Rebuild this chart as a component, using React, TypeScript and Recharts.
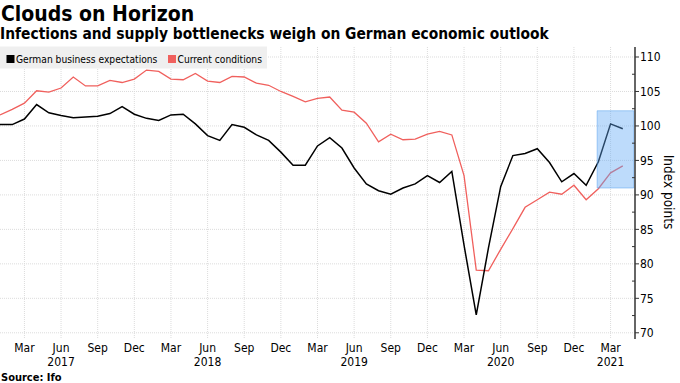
import React from 'react';
import {
  LineChart,
  Line,
  XAxis,
  YAxis,
  CartesianGrid,
  ReferenceArea,
} from 'recharts';

// monthly, Jan 2017 .. Apr 2021
const months = [
  'Jan 2017', 'Feb 2017', 'Mar 2017', 'Apr 2017', 'May 2017', 'Jun 2017',
  'Jul 2017', 'Aug 2017', 'Sep 2017', 'Oct 2017', 'Nov 2017', 'Dec 2017',
  'Jan 2018', 'Feb 2018', 'Mar 2018', 'Apr 2018', 'May 2018', 'Jun 2018',
  'Jul 2018', 'Aug 2018', 'Sep 2018', 'Oct 2018', 'Nov 2018', 'Dec 2018',
  'Jan 2019', 'Feb 2019', 'Mar 2019', 'Apr 2019', 'May 2019', 'Jun 2019',
  'Jul 2019', 'Aug 2019', 'Sep 2019', 'Oct 2019', 'Nov 2019', 'Dec 2019',
  'Jan 2020', 'Feb 2020', 'Mar 2020', 'Apr 2020', 'May 2020', 'Jun 2020',
  'Jul 2020', 'Aug 2020', 'Sep 2020', 'Oct 2020', 'Nov 2020', 'Dec 2020',
  'Jan 2021', 'Feb 2021', 'Mar 2021', 'Apr 2021',
];

const expectations = [
  100.2, 100.2, 101.0, 103.1, 101.9, 101.5, 101.2, 101.3, 101.4, 101.8, 102.8, 101.7,
  101.1, 100.8, 101.6, 101.7, 100.3, 98.6, 97.9, 100.2, 99.8, 98.7, 97.9, 96.2,
  94.3, 94.3, 97.1, 98.3, 96.8, 93.9, 91.6, 90.6, 90.1, 91.0, 91.6, 92.8,
  91.8, 93.4, 82.7, 72.6, 82.3, 91.2, 95.7, 96.0, 96.7, 94.7, 91.9, 93.1,
  91.4, 94.8, 100.3, 99.6,
];

const conditions = [
  101.6, 102.4, 103.3, 105.1, 104.9, 105.5, 107.1, 105.8, 105.8, 106.6, 106.3, 106.8,
  108.1, 107.9, 106.8, 106.7, 107.6, 106.5, 106.3, 107.2, 107.1, 106.2, 105.9, 105.0,
  104.3, 103.5, 104.0, 104.2, 102.3, 102.0, 100.4, 97.7, 98.8, 98.0, 98.1, 98.8,
  99.2, 98.7, 92.8, 79.1, 79.0, 82.1, 85.1, 88.2, 89.3, 90.4, 90.1, 91.4,
  89.3, 90.9, 93.2, 94.2,
];

// quarterly ticks (month index), labels and year line
const xTicks = [2, 5, 8, 11, 14, 17, 20, 23, 26, 29, 32, 35, 38, 41, 44, 47, 50];
const xTickMonths = ['Mar', 'Jun', 'Sep', 'Dec', 'Mar', 'Jun', 'Sep', 'Dec', 'Mar', 'Jun', 'Sep', 'Dec', 'Mar', 'Jun', 'Sep', 'Dec', 'Mar'];
const xTickYears = ['', '2017', '', '', '', '2018', '', '', '', '2019', '', '', '', '2020', '', '', '2021'];

const yMajor = [70, 75, 80, 85, 90, 95, 100, 105, 110];
const yTicks = [70, 72.5, 75, 77.5, 80, 82.5, 85, 87.5, 90, 92.5, 95, 97.5, 100, 102.5, 105, 107.5, 110];

// highlighted window
const highlight = { x1: 48.9, x2: 51.9, y1: 91.0, y2: 102.2 };

const data = months.map((m, i) => ({
  i,
  month: m,
  expectations: expectations[i],
  conditions: conditions[i],
}));

const FONT = '"DejaVu Sans Condensed", "DejaVu Sans", sans-serif';
const RED = '#f0605d';

const XTick = (props: any) => {
  const { x, y, payload } = props;
  const k = xTicks.indexOf(payload.value);
  return (
    <g>
      <text x={x} y={y + 13} textAnchor="middle" fontSize={12} fill="#000" fontFamily={FONT}>
        {xTickMonths[k]}
      </text>
      {xTickYears[k] && (
        <text x={x} y={y + 27} textAnchor="middle" fontSize={12} fill="#000" fontFamily={FONT}>
          {xTickYears[k]}
        </text>
      )}
    </g>
  );
};

const YTick = (props: any) => {
  const { x, y, payload } = props;
  const major = yMajor.includes(payload.value);
  if (!major) {
    return <line x1={x - 3} x2={x} y1={y} y2={y} stroke="#333" strokeWidth={1} />;
  }
  return (
    <g>
      <line x1={x} x2={x + 4} y1={y} y2={y} stroke="#333" strokeWidth={1} />
      <text x={x + 5} y={y + 4.5} fontSize={12} fill="#000" fontFamily={FONT}>
        {payload.value}
      </text>
    </g>
  );
};

export default function App() {
  return (
    <div style={{ position: 'absolute', left: 0, top: 0, width: 680, height: 383, background: '#fff' }}>
      <LineChart
        width={680}
        height={383}
        data={data}
        margin={{ top: 47, right: 0, left: 0, bottom: 0 }}
      >
        <CartesianGrid
          stroke="#dcdcdc"
          strokeDasharray="1 1"
          horizontalValues={yMajor}
          verticalValues={xTicks}
        />
        <XAxis
          dataKey="i"
          type="number"
          domain={[0, 52]}
          ticks={xTicks}
          interval={0}
          height={44}
          axisLine={false}
          tickLine={false}
          tickSize={0}
          tickMargin={0}
          tick={<XTick />}
        />
        <YAxis
          orientation="right"
          type="number"
          domain={[69.1, 111.45]}
          allowDataOverflow
          ticks={yTicks}
          interval={0}
          width={45}
          axisLine={{ stroke: '#333', strokeWidth: 1.5 }}
          tickLine={false}
          tickSize={0}
          tickMargin={0}
          tick={<YTick />}
        />
        <Line
          dataKey="conditions"
          stroke={RED}
          strokeWidth={1.3}
          dot={false}
          isAnimationActive={false}
        />
        <Line
          dataKey="expectations"
          stroke="#000"
          strokeWidth={1.5}
          dot={false}
          isAnimationActive={false}
        />
        <ReferenceArea
          x1={highlight.x1}
          x2={highlight.x2}
          y1={highlight.y1}
          y2={highlight.y2}
          fill="#62aaf6"
          fillOpacity={0.42}
          stroke="#4a98ea"
          strokeOpacity={0.45}
          zIndex={450}
        />
      </LineChart>
      <svg
        width={680}
        height={383}
        style={{ position: 'absolute', left: 0, top: 0, pointerEvents: 'none' }}
      >
        <text x={1} y={21} fontSize={21} fontWeight="bold" fontFamily={FONT} fill="#000">
          Clouds on Horizon
        </text>
        <text x={0} y={38.5} fontSize={15.4} fontWeight="bold" fontFamily={FONT} fill="#000">
          Infections and supply bottlenecks weigh on German economic outlook
        </text>
        <rect x={0} y={46.5} width={267} height={22} fill="#efefef" />
        <rect x={6.5} y={55} width={8} height={8} fill="#000" />
        <text x={16} y={62.5} fontSize={10.2} fontFamily={FONT} fill="#000">
          German business expectations
        </text>
        <rect x={168} y={55} width={8} height={8} fill={RED} />
        <text x={177.5} y={62.5} fontSize={10.2} fontFamily={FONT} fill="#000">
          Current conditions
        </text>
        <text
          x={664}
          y={192}
          fontSize={13.5}
          fontFamily={FONT}
          fill="#000"
          textAnchor="middle"
          transform="rotate(90 664 192)"
        >
          Index points
        </text>
        <text x={1} y={381} fontSize={11} fontWeight="bold" fontFamily={FONT} fill="#000">
          Source: Ifo
        </text>
      </svg>
    </div>
  );
}
